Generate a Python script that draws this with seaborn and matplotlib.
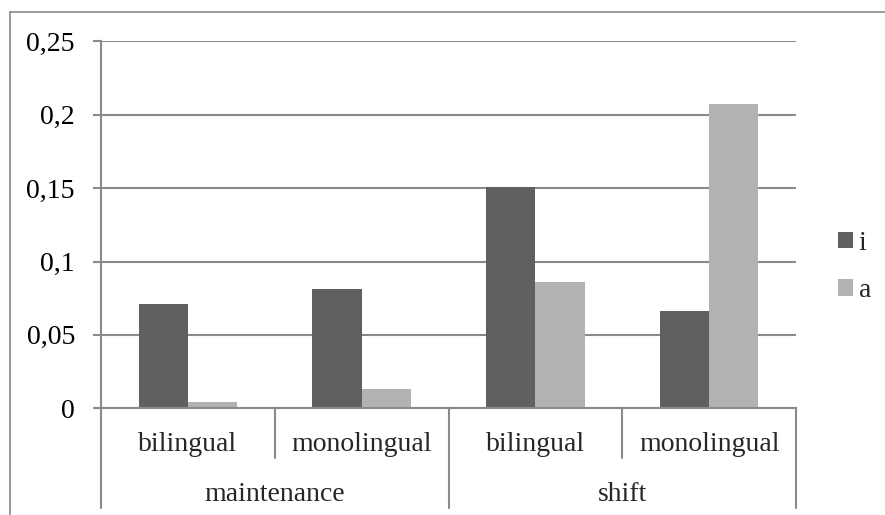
import matplotlib
matplotlib.use("Agg")
import matplotlib.pyplot as plt
from matplotlib.lines import Line2D
from matplotlib.ticker import FuncFormatter
from matplotlib.transforms import blended_transform_factory
import seaborn as sns
import pandas as pd

# data
groups = ["maintenance", "maintenance", "shift", "shift"]
speakers = ["bilingual", "monolingual", "bilingual", "monolingual"]
series_names = ["i", "a"]
values_i = [0.071, 0.081, 0.151, 0.066]
values_a = [0.004, 0.013, 0.086, 0.207]
y_ticks = [0, 0.05, 0.1, 0.15, 0.2, 0.25]
colors = ["#606060", "#b2b2b2"]

keys = [f"{g}|{s}" for g, s in zip(groups, speakers)]
df = pd.DataFrame({
    "key": keys * 2,
    "series": [series_names[0]] * len(keys) + [series_names[1]] * len(keys),
    "value": values_i + values_a,
})

sns.set_style("white")
plt.rcParams["font.family"] = ["Liberation Serif", "DejaVu Serif"]
FS = 20
FS_PX = FS * 100 / 72
GRAY = "#8a8a8a"

W, H = 885, 515
fig = plt.figure(figsize=(W / 100, H / 100), dpi=100)
L, R, T, B = 101, 796, 41.3, 408.3
ax = fig.add_axes([L / W, 1 - B / H, (R - L) / W, (B - T) / H])

sns.barplot(data=df, x="key", y="value", hue="series", order=keys,
            hue_order=series_names, palette=colors, saturation=1,
            width=0.567, gap=0, errorbar=None, linewidth=0, ax=ax)

ax.set_xlim(-0.5, len(keys) - 0.5)
ax.set_ylim(0, 0.25)
ax.set_yticks(y_ticks)
ax.yaxis.set_major_formatter(FuncFormatter(lambda v, _: f"{v:g}".replace(".", ",")))
ax.set_xticks([])
ax.set_xlabel("")
ax.set_ylabel("")
ax.yaxis.grid(True, color=GRAY, lw=1.5)
ax.set_axisbelow(True)
for side in ("top", "right"):
    ax.spines[side].set_visible(False)
for side in ("left", "bottom"):
    ax.spines[side].set_color(GRAY)
    ax.spines[side].set_linewidth(1.5)
ax.tick_params(axis="y", left=True, length=5.8, width=1.5, color=GRAY,
               pad=13, labelsize=FS, labelcolor="black")


def px(p):
    """Pixel row of the figure -> axes fraction."""
    return (B - p) / (B - T)


# two-level category axis
trans = blended_transform_factory(ax.transData, ax.transAxes)
y_inner_line, y_outer_line = px(458), px(508)
y_inner_text, y_outer_text = px(451), px(500.7)

boundaries = [-0.5] + [i + 0.5 for i in range(len(keys))]
for b in boundaries:
    idx_left = int(b - 0.5) if b > -0.5 else None
    idx_right = int(b + 0.5) if b + 0.5 < len(keys) else None
    outer = (idx_left is None or idx_right is None
             or groups[idx_left] != groups[idx_right])
    ax.add_line(Line2D([b, b], [0, y_outer_line if outer else y_inner_line],
                       transform=trans, color=GRAY, lw=1.5, clip_on=False))

for i, s in enumerate(speakers):
    ax.text(i, y_inner_text, s, transform=trans, ha="center", va="baseline",
            fontsize=FS)

seen = []
for g in groups:
    if g not in seen:
        seen.append(g)
for g in seen:
    idx = [i for i, gg in enumerate(groups) if gg == g]
    ax.text(sum(idx) / len(idx), y_outer_text, g, transform=trans,
            ha="center", va="baseline", fontsize=FS)

# legend
handles, labels = ax.get_legend_handles_labels()
ax.get_legend().remove()
fig.legend(handles, labels, loc="center left",
           bbox_to_anchor=(838 / W, 1 - 267 / H), frameon=False,
           fontsize=FS, handlelength=15 / FS_PX, handleheight=15 / FS_PX,
           handletextpad=0.2, labelspacing=0.8, borderpad=0,
           borderaxespad=0)

# chart frame
fig.add_artist(Line2D([10 / W, 10 / W], [1 - 12 / H, 0], transform=fig.transFigure,
                      color=GRAY, lw=1.2))
fig.add_artist(Line2D([10 / W, 1], [1 - 12 / H, 1 - 12 / H], transform=fig.transFigure,
                      color=GRAY, lw=1.2))

fig.savefig("out.png", dpi=100)
